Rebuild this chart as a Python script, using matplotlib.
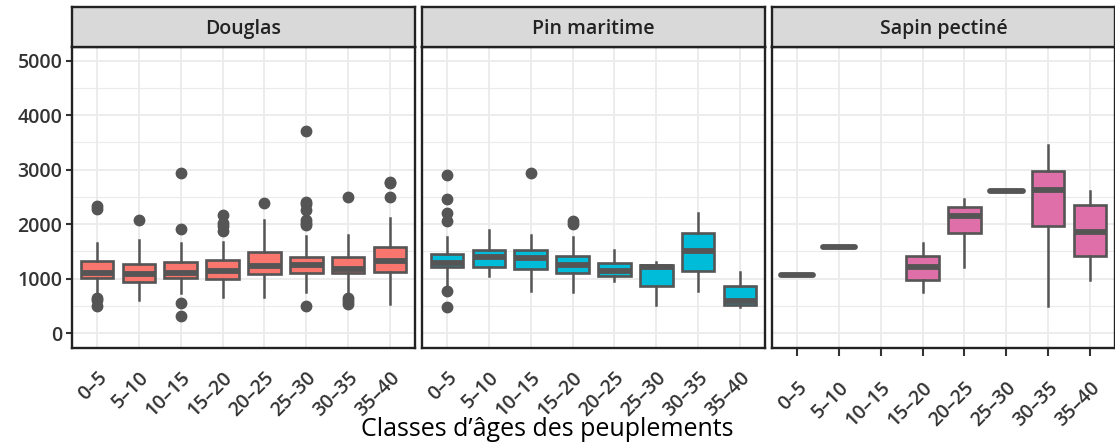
import matplotlib
matplotlib.use("Agg")
import matplotlib.pyplot as plt
from matplotlib.transforms import ScaledTranslation

plt.rcParams['font.family'] = ['Open Sans', 'DejaVu Sans']

classes = ["0–5", "5–10", "10–15", "15–20", "20–25", "25–30", "30–35", "35–40"]
species = ["Douglas", "Pin maritime", "Sapin pectiné"]
fills = ["#F8766D", "#00BCD8", "#DE6FA9"]

# Douglas
dou_pos = [1, 2, 3, 4, 5, 6, 7, 8]
dou_lo = [690, 610, 730, 670, 670, 760, 700, 530]
dou_q1 = [1015, 945, 1010, 995, 1080, 1105, 1105, 1115]
dou_med = [1105, 1090, 1105, 1140, 1235, 1240, 1170, 1325]
dou_q3 = [1315, 1270, 1310, 1335, 1480, 1400, 1400, 1580]
dou_hi = [1660, 1700, 1660, 1670, 2070, 1780, 1800, 2110]
dou_out = [[2330, 2270, 640, 610, 490], [2080], [2940, 1910, 560, 320],
           [2170, 2020, 1960, 1880], [2390],
           [3700, 2410, 2370, 2260, 2070, 2020, 1990, 500],
           [2490, 650, 590, 540], [2780, 2750, 2490]]

# Pin maritime
pin_pos = [1, 2, 3, 4, 5, 6, 7, 8]
pin_lo = [860, 1050, 780, 750, 950, 515, 780, 480]
pin_q1 = [1210, 1215, 1170, 1105, 1050, 855, 1130, 510]
pin_med = [1290, 1400, 1380, 1250, 1140, 1210, 1500, 590]
pin_q3 = [1445, 1525, 1520, 1415, 1280, 1255, 1830, 855]
pin_hi = [1770, 1895, 1800, 1770, 1530, 1295, 2200, 1125]
pin_out = [[2900, 2460, 2200, 2050, 780, 480], [], [2940], [2050, 2010], [], [], [], []]

# Sapin pectiné (no data for 10-15)
sap_pos = [1, 2, 4, 5, 6, 7, 8]
sap_lo = [1070, 1570, 750, 1205, 2610, 500, 975]
sap_q1 = [1070, 1570, 975, 1830, 2610, 1965, 1415]
sap_med = [1070, 1570, 1205, 2145, 2610, 2620, 1850]
sap_q3 = [1070, 1570, 1420, 2305, 2610, 2965, 2355]
sap_hi = [1070, 1570, 1650, 2455, 2610, 3445, 2615]
sap_out = [[], [], [], [], [], [], []]

groups = [
    (dou_pos, dou_lo, dou_q1, dou_med, dou_q3, dou_hi, dou_out),
    (pin_pos, pin_lo, pin_q1, pin_med, pin_q3, pin_hi, pin_out),
    (sap_pos, sap_lo, sap_q1, sap_med, sap_q3, sap_hi, sap_out),
]

dark = "#555555"
txt = "#333333"
fig = plt.figure(figsize=(11.15, 4.48), dpi=100)

lefts = [72, 422, 772]
label_pad = [14.4, 14.4, 15.6]   # points below axis / tick
label_dx = [4, 5, 15]            # pixels to the right of the tick
W, H = 1115, 448
for i, (name, col, grp) in enumerate(zip(species, fills, groups)):
    pos, lo, q1, med, q3, hi, out = grp
    ax = fig.add_axes([lefts[i] / W, 1 - 348 / H, 343 / W, (348 - 47) / H])
    sax = fig.add_axes([lefts[i] / W, 1 - 47 / H, 343 / W, 40 / H])

    stats = []
    for k in range(len(pos)):
        stats.append(dict(whislo=lo[k], q1=q1[k], med=med[k], q3=q3[k],
                          whishi=hi[k], fliers=out[k]))
    bp = ax.bxp(stats, positions=pos, widths=0.78, patch_artist=True,
                showcaps=False,
                boxprops=dict(facecolor=col, edgecolor=dark, linewidth=1.9),
                medianprops=dict(color=dark, linewidth=4.2, solid_capstyle='butt'),
                whiskerprops=dict(color=dark, linewidth=1.8),
                flierprops=dict(marker='o', markerfacecolor=dark,
                                markeredgecolor=dark, markersize=7.5))
    # groups with a single value show as a rounded bar
    for k, m in enumerate(bp['medians']):
        if q1[k] == q3[k]:
            m.set_solid_capstyle('round')

    ax.set_xlim(0.4, 8.6)
    ax.set_ylim(-275, 5250)
    ax.set_xticks(range(1, 9))
    ax.set_xticklabels(classes, rotation=45, ha='right', va='top',
                       rotation_mode='anchor', fontsize=14, color=txt,
                       fontweight='semibold')
    shift = ScaledTranslation(label_dx[i] / 100, 0, fig.dpi_scale_trans)
    for t in ax.get_xticklabels():
        t.set_transform(t.get_transform() + shift)
    ax.set_yticks([0, 1000, 2000, 3000, 4000, 5000])
    ax.set_yticks([500, 1500, 2500, 3500, 4500], minor=True)
    ax.grid(True, which='major', color='#ebebeb', linewidth=1.3)
    ax.grid(True, which='minor', axis='y', color='#ebebeb', linewidth=0.8)
    ax.set_axisbelow(True)
    ax.tick_params(axis='y', which='minor', length=0)
    if i == 0:
        ax.tick_params(axis='y', length=4, width=1.5, color=txt,
                       labelsize=14, labelcolor=txt, pad=3)
        for t in ax.get_yticklabels():
            t.set_fontweight('semibold')
    else:
        ax.tick_params(axis='y', length=0, labelleft=False)
    if i == 2:
        ax.tick_params(axis='x', length=6, width=1.5, color=txt, pad=label_pad[i])
    else:
        ax.tick_params(axis='x', length=0, pad=label_pad[i])
    for s in ax.spines.values():
        s.set_color('#222222')
        s.set_linewidth(1.7)

    sax.set_facecolor('#d9d9d9')
    sax.set_xticks([])
    sax.set_yticks([])
    for s in sax.spines.values():
        s.set_color('#222222')
        s.set_linewidth(1.7)
    sax.text(0.5, 0.45, name, ha='center', va='center', fontsize=14,
             color='#222222', fontweight='semibold', transform=sax.transAxes)

fig.text(547 / W, 1 - 429 / H, "Classes d’âges des peuplements",
         ha='center', va='center', fontsize=18, color='black')

fig.savefig("out.png", dpi=100)
